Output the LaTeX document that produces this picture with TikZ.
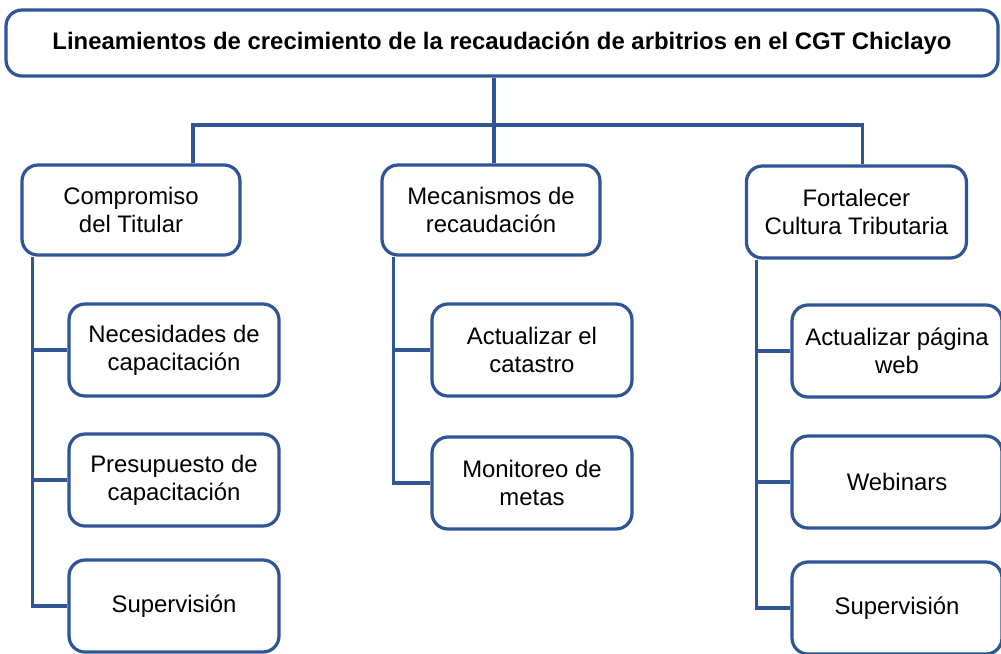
\documentclass[tikz,border=0pt]{standalone}
\usepackage{fontspec}
\setmainfont{Liberation Sans}
\usepackage{tikz}
\definecolor{azul}{RGB}{47,85,151}

\begin{document}
\begin{tikzpicture}
    \tikzstyle{caja} = [draw=azul, line width=2.3pt, rounded corners=0.4cm, fill=white, align=center, inner sep=2pt, font=\fontsize{17}{20}\selectfont]
    \tikzstyle{hijo} = [caja, minimum width=5.25cm, minimum height=2.3cm]
    \tikzstyle{rama} = [draw=azul, line width=2.3pt]
    \useasboundingbox (0,0) rectangle (25.025,-16.325);

    \node[caja, minimum width=24.8cm, minimum height=1.65cm, font=\fontsize{17}{20}\selectfont\bfseries] (tit) at (12.55,-1.075) {Lineamientos de crecimiento de la recaudación de arbitrios en el CGT Chiclayo};

    \node[caja, minimum width=5.45cm, minimum height=2.25cm] (comp) at (3.275,-5.25) {Compromiso\\del Titular};
    \node[caja, minimum width=5.45cm, minimum height=2.25cm] (meca) at (12.275,-5.25) {Mecanismos de\\recaudación};
    \node[caja, minimum width=5.5cm, minimum height=2.3cm] (fort) at (21.41,-5.3) {Fortalecer\\Cultura Tributaria};

    \node[hijo] (nec) at (4.35,-8.75) {Necesidades de\\capacitación};
    \node[hijo] (pres) at (4.35,-12.0) {Presupuesto de\\capacitación};
    \node[hijo] (supa) at (4.35,-15.15) {Supervisión};

    \node[hijo, minimum width=5cm] (act) at (13.3,-8.75) {Actualizar el\\catastro};
    \node[hijo, minimum width=5cm] (mon) at (13.3,-12.075) {Monitoreo de\\metas};

    \node[hijo] (pag) at (22.425,-8.775) {Actualizar página\\web};
    \node[hijo] (web) at (22.425,-12.05) {Webinars};
    \node[hijo] (supb) at (22.425,-15.2) {Supervisión};

    % conectores
    \coordinate (barra) at (12.35,-3.125);
    \draw[rama] (tit.south -| barra) -- (meca.north -| barra);
    \draw[rama] ([xshift=1.55cm]comp.north) |- (barra) -| ([xshift=0.15cm]fort.north);
    \foreach \h in {nec,pres,supa} {
        \draw[rama] ([xshift=0.3cm]comp.south west) |- (\h.west);
    }
    \foreach \h in {act,mon} {
        \draw[rama] ([xshift=0.33cm]meca.south west) |- (\h.west);
    }
    \foreach \h in {pag,web,supb} {
        \draw[rama] ([xshift=0.3cm]fort.south west) |- (\h.west);
    }
\end{tikzpicture}
\end{document}
